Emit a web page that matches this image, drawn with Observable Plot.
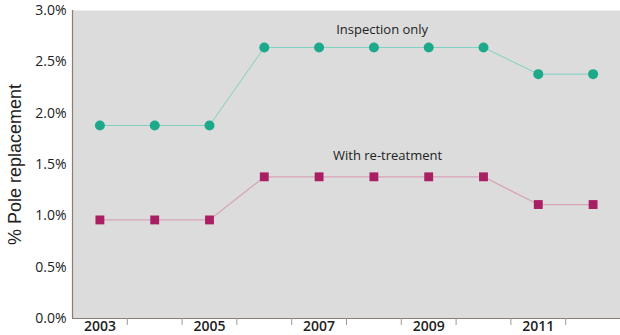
<!DOCTYPE html>
<html><head><meta charset="utf-8">
<script src="https://cdn.jsdelivr.net/npm/d3@7"></script>
<script src="https://cdn.jsdelivr.net/npm/@observablehq/plot@0.6"></script>
<style>body{margin:0;background:#fff;} svg{display:block;}</style>
</head><body><div id="chart"></div><script>
const years = [2003, 2004, 2005, 2006, 2007, 2008, 2009, 2010, 2011, 2012];
const inspectionOnly = [1.88, 1.88, 1.88, 2.64, 2.64, 2.64, 2.64, 2.64, 2.38, 2.38];
const withRetreatment = [0.96, 0.96, 0.96, 1.38, 1.38, 1.38, 1.38, 1.38, 1.11, 1.11];
const yTicks = [0, 0.5, 1.0, 1.5, 2.0, 2.5, 3.0];
const xLabelYears = [2003, 2005, 2007, 2009, 2011];
const xTickBoundaries = [2003.5, 2004.5, 2005.5, 2006.5, 2007.5, 2008.5, 2009.5, 2010.5, 2011.5];
const seriesNames = ["Inspection only", "With re-treatment"];
const seriesLabelYear = [2008.15, 2008.25];
const seriesLabelValue = [2.81, 1.58];
const yTitle = "% Pole replacement";

const inspData = years.map((y, i) => ({year: y, value: inspectionOnly[i]}));
const retData = years.map((y, i) => ({year: y, value: withRetreatment[i]}));
const labelData = seriesNames.map((n, i) => ({name: n, year: seriesLabelYear[i], value: seriesLabelValue[i]}));

const font = "'Open Sans', Lato, sans-serif";
const axisColor = "#8c7b70";

const chart = Plot.plot({
  width: 620,
  height: 335,
  marginTop: 10,
  marginBottom: 17,
  marginLeft: 72,
  marginRight: 0,
  style: {fontFamily: font, background: "#fff", color: "#222"},
  x: {type: "linear", domain: [2002.5, 2012.5], axis: null},
  y: {domain: [0, 3], axis: null},
  marks: [
    Plot.frame({fill: "#dcdcdc", stroke: null}),
    Plot.ruleX([2002.5], {stroke: axisColor, strokeWidth: 1.2}),
    Plot.ruleY([0], {stroke: axisColor, strokeWidth: 1.2}),
    Plot.axisY(yTicks, {tickSize: 0, tickPadding: 6, tickFormat: d => d.toFixed(1) + "%", fontSize: 14, label: null, fill: "#222"}),
    Plot.axisX(xTickBoundaries, {tickSize: 7, tickFormat: () => "", stroke: "#999", label: null, tickPadding: 0}),
    Plot.axisX(xLabelYears, {tickSize: 0, tickPadding: 3, tickFormat: d => String(d), fontSize: 14, fontWeight: "600", label: null, fill: "#222"}),
    Plot.text([yTitle], {frameAnchor: "left", textAnchor: "middle", rotate: -90, dx: -57, fontSize: 18, fontFamily: "'Liberation Sans', Arial, sans-serif", fill: "#222"}),
    Plot.line(inspData, {x: "year", y: "value", stroke: "#7fd0bf", strokeWidth: 1}),
    Plot.line(retData, {x: "year", y: "value", stroke: "#d8a3b7", strokeWidth: 1.2}),
    Plot.dot(inspData, {x: "year", y: "value", r: 5, fill: "#1fa98b", stroke: null}),
    Plot.dot(retData, {x: "year", y: "value", r: 5, symbol: "square", fill: "#a81f63", stroke: null}),
    Plot.text(labelData, {x: "year", y: "value", text: "name", fontSize: 13, fill: "#222"})
  ]
});
document.getElementById("chart").appendChild(chart);
</script></body></html>
